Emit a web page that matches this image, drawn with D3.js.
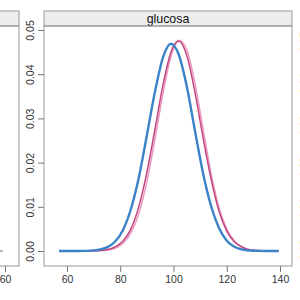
<!DOCTYPE html>
<html>
<head>
<meta charset="utf-8">
<script src="https://cdn.jsdelivr.net/npm/d3@7"></script>
<style>
  body { margin: 0; background: #fff; }
  svg { display: block; font-family: "Liberation Sans", Arial, sans-serif; }
</style>
</head>
<body>
<svg id="chart" width="300" height="300"></svg>
<script>
// glucose grid and estimated densities
const glucosa = [57, 60, 63, 66, 69, 72, 75, 78, 81, 84, 87, 90, 93, 96, 99, 102, 105, 108, 111, 114, 117, 120, 123, 126, 129, 132, 135, 138, 139.5];
const densBlue = [0, 0, 0.00001, 0.00002, 0.00008, 0.00028, 0.00081, 0.0021, 0.0047, 0.0095, 0.0167, 0.0262, 0.0359, 0.0437, 0.0469, 0.0444, 0.0372, 0.0274, 0.0179, 0.0104, 0.0053, 0.0023, 0.0009, 0.0003, 0.0001, 0.00003, 0, 0, 0];
const densPinkDark = [0, 0, 0, 0.00001, 0.00002, 0.00009, 0.0003, 0.0009, 0.0022, 0.0050, 0.0101, 0.0178, 0.0274, 0.0374, 0.0449, 0.0475, 0.0442, 0.0361, 0.0260, 0.0166, 0.0092, 0.0045, 0.0020, 0.0008, 0.0002, 0.0001, 0, 0, 0];
const densPinkLight = [0, 0, 0, 0.00001, 0.00002, 0.00006, 0.0002, 0.0006, 0.0017, 0.0041, 0.0085, 0.0157, 0.0252, 0.0355, 0.0439, 0.0477, 0.0455, 0.0381, 0.0280, 0.0179, 0.0101, 0.0050, 0.0022, 0.0008, 0.0003, 0.0001, 0, 0, 0];

const xTicks = [60, 80, 100, 120, 140];
const yTicks = [0, 0.01, 0.02, 0.03, 0.04, 0.05];
const leftXTicks = [40, 60];
const rightYTicks = [0, 0.01, 0.02, 0.03, 0.04, 0.05];
const panelTitle = "glucosa";

const svg = d3.select("#chart");
const border = "#999";

// middle panel
const x = d3.scaleLinear().domain([60, 140]).range([67, 280]);
const y = d3.scaleLinear().domain([0, 0.05]).range([251, 30]);

// strips
svg.append("rect").attr("x", -5).attr("y", 11).attr("width", 24).attr("height", 15)
    .attr("fill", "#eeeeee").attr("stroke", border);
svg.append("rect").attr("x", 44).attr("y", 11).attr("width", 248).attr("height", 15)
    .attr("fill", "#eeeeee").attr("stroke", border);
svg.append("text").attr("x", 168).attr("y", 22.5).attr("text-anchor", "middle")
    .attr("font-size", 12.4).attr("fill", "#111").text(panelTitle);

// panel boxes
svg.append("rect").attr("x", -5).attr("y", 26).attr("width", 24).attr("height", 240)
    .attr("fill", "none").attr("stroke", border);
svg.append("rect").attr("x", 44).attr("y", 26).attr("width", 248).attr("height", 240)
    .attr("fill", "none").attr("stroke", border);

// axes of middle panel
svg.append("g").attr("transform", "translate(0,266)")
    .call(d3.axisBottom(x).tickValues(xTicks).tickSize(6).tickPadding(4).tickFormat(d3.format("d")));
const yAxis = svg.append("g").attr("transform", "translate(44,0)")
    .call(d3.axisLeft(y).tickValues(yTicks).tickSize(6).tickFormat(d3.format(".2f")));
// rotated labels, like R's lattice
yAxis.selectAll(".tick text")
    .attr("transform", "translate(-10.5,0) rotate(-90)")
    .attr("x", 0).attr("y", 0).attr("dy", 0)
    .attr("text-anchor", "middle");

// left panel partial x axis
const leftX = d3.scaleLinear().domain([40, 60]).range([-48, 5]);
svg.append("g").attr("transform", "translate(0,266)")
    .call(d3.axisBottom(leftX).tickValues(leftXTicks).tickSize(6).tickPadding(4).tickFormat(d3.format("d")));

// right panel partial y labels (only a sliver shows)
const rightY = d3.scaleLinear().domain([0, 0.05]).range([250, 42]);
svg.append("g").selectAll("text").data(rightYTicks).join("text")
    .attr("transform", d => `translate(307.5,${rightY(d)}) rotate(-90)`)
    .attr("text-anchor", "middle")
    .attr("font-size", 10.5).attr("fill", "#555")
    .text(d3.format(".2f"));

svg.selectAll(".domain").remove();
svg.selectAll(".tick line").attr("stroke", "#777");
svg.selectAll(".tick text").attr("font-size", 10.5).attr("fill", "#333")
    .attr("font-family", "Liberation Sans, Arial, sans-serif");

// left panel tail of a curve
svg.append("line").attr("x1", 0).attr("x2", 3).attr("y1", y(0)).attr("y2", y(0))
    .attr("stroke", "#666").attr("stroke-width", 1);

// curves
const series = [
  { vals: densPinkLight, color: "#e89ac0", width: 1.5 },
  { vals: densPinkDark, color: "#c2457f", width: 1.5 },
  { vals: densBlue, color: "#3b83c8", width: 2.4 }
];
const line = d3.line().curve(d3.curveMonotoneX);
series.forEach(s => {
  svg.append("path")
    .attr("d", line(glucosa.map((g, i) => [x(g), y(s.vals[i])])))
    .attr("fill", "none").attr("stroke", s.color)
    .attr("stroke-width", s.width).attr("stroke-linejoin", "round");
});
</script>
</body>
</html>
